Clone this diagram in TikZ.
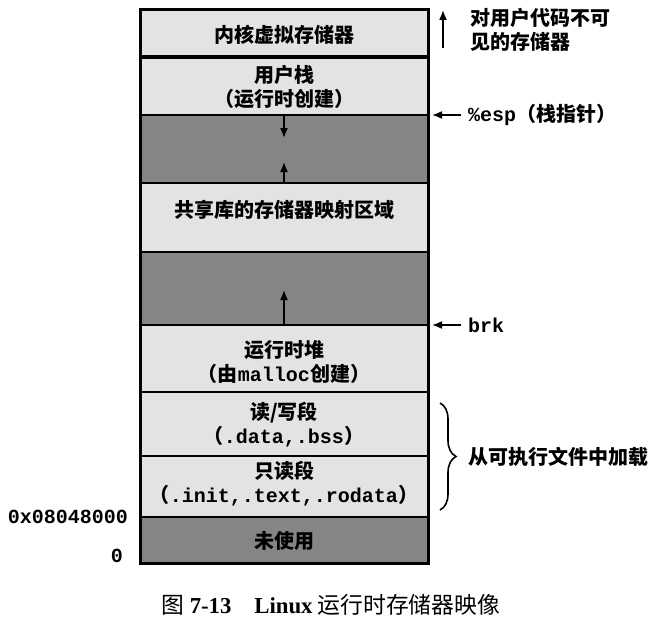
\documentclass[tikz,border=0pt]{standalone}
\usepackage{fontspec}
\setmainfont{Noto Sans CJK SC}
\setmonofont{Liberation Mono}
\newfontfamily\capserif{Liberation Serif}
\usepackage{xcolor}
\usetikzlibrary{arrows.meta,decorations.pathreplacing}
\definecolor{lightfill}{gray}{0.89}
\definecolor{darkfill}{gray}{0.52}

\begin{document}
\begin{tikzpicture}[x=0.5pt,y=-0.5pt,
  seg/.style={font=\bfseries, align=center},
  side/.style={font=\bfseries, anchor=west, align=left},
  tip/.style={-{Latex[length=5pt,width=4pt]}, line width=0.8pt}]
\useasboundingbox (0,0) rectangle (668,626);
% region fills, top to bottom
\foreach \t/\b/\c in {10/57/lightfill,57/115/lightfill,115/183/darkfill,183/252/lightfill,
  252/325/darkfill,325/392/lightfill,392/456/lightfill,456/517/lightfill,517/563/darkfill}
  \fill[\c] (140,\t) rectangle (428,\b);
% dividers and frame
\foreach \y in {115,183,252,325,392,456,517}
  \draw[line width=1pt] (140,\y) -- (428,\y);
\draw[line width=2pt] (140,57) -- (428,57);
\draw[line width=1.5pt] (140,10) rectangle (428,563);
% region labels
\node[seg] (kernel) at (284,35) {内核虚拟存储器};
\node[seg] (stack) at (284,87) {用户栈\\（运行时创建）};
\node[seg] (shlib) at (284,210) {共享库的存储器映射区域};
\node[seg] (heap) at (284,362) {运行时堆\\（由\texttt{malloc}创建）};
\node[seg] (rwseg) at (284,425) {读/写段\\（\texttt{.data,.bss}）};
\node[seg] (roseg) at (284,484) {只读段\\（\texttt{.init,.text,.rodata}）};
\node[seg] (unused) at (284,541) {未使用};
% growth arrows
\coordinate (stackend) at (284,115);
\coordinate (stackgrow) at (284,138);
\coordinate (shlibend) at (284,183);
\coordinate (shlibgrow) at (284,162);
\coordinate (heapend) at (284,325);
\coordinate (heapgrow) at (284,290);
\draw[tip] (stackend) -- (stackgrow);
\draw[tip] (shlibend) -- (shlibgrow);
\draw[tip] (heapend) -- (heapgrow);
% right side
\node[side] (hidden) at (463,30) {对用户代码不可\\见的存储器};
\coordinate (hiddenfoot) at (443,48);
\coordinate (hiddentop) at (443,10);
\draw[tip] (hiddenfoot) -- (hiddentop);
\node[side] (esp) at (461,115) {\texttt{\%esp}（栈指针）};
\coordinate (espmark) at (432,115);
\draw[tip] (esp.west) -- (espmark);
\node[side] (brk) at (461,325) {\texttt{brk}};
\coordinate (brkmark) at (432,325);
\draw[tip] (brk.west) -- (brkmark);
\coordinate (loadtop) at (440,403);
\coordinate (loadbot) at (440,510);
\draw[line width=0.8pt, decoration={brace,amplitude=8pt}, decorate] (loadtop) -- (loadbot);
\node[side] (load) at (461,457) {从可执行文件中加载};
% addresses
\node[font=\bfseries\ttfamily, anchor=east] (start) at (135,517) {0x08048000};
\node[font=\bfseries\ttfamily, anchor=east] (zero) at (130,556) {0};
% caption
\node[font=\fontsize{11.4}{13}\selectfont] (caption) at (331,605) {图 {\capserif\bfseries 7-13}\quad{\capserif\bfseries Linux} 运行时存储器映像};
\end{tikzpicture}
\end{document}
